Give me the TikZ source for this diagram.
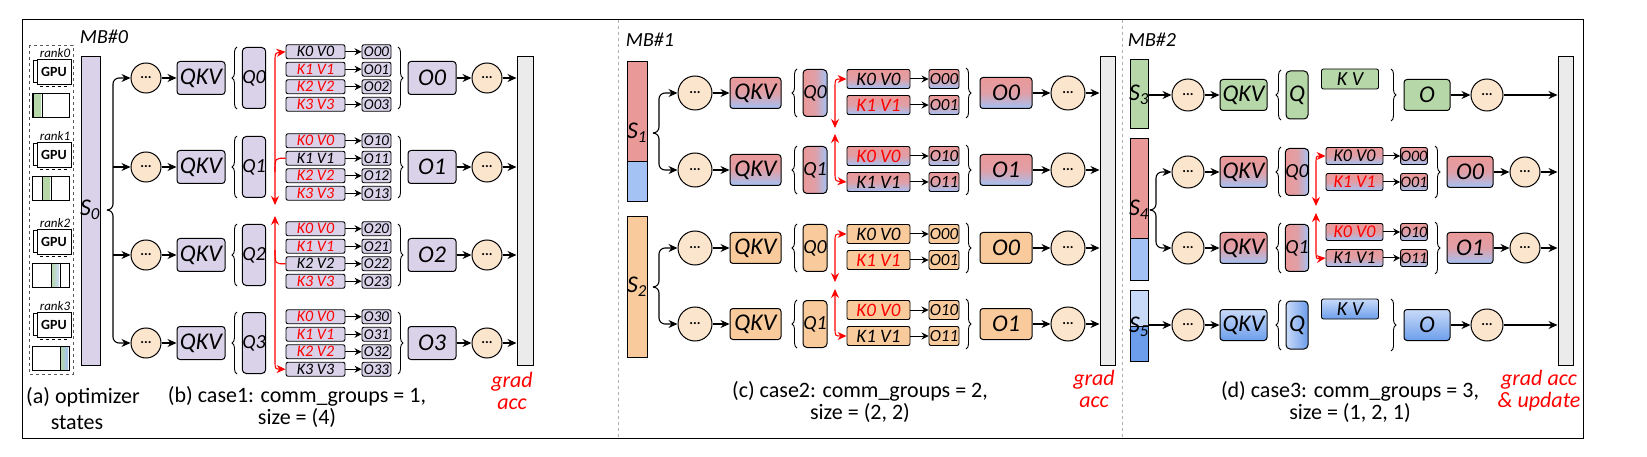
\documentclass[tikz,border=0pt]{standalone}
\usepackage{fontspec}
\setmainfont{Carlito}
\usetikzlibrary{arrows.meta,decorations.pathreplacing}
\definecolor{lav}{HTML}{D9D2E9}
\definecolor{peach}{HTML}{FCE5CD}
\definecolor{rd}{HTML}{EA9999}
\definecolor{bl}{HTML}{A4C2F4}
\definecolor{org}{HTML}{F9CB9C}
\definecolor{grn}{HTML}{B6D7A8}
\definecolor{lbl}{HTML}{C9DAF8}
\definecolor{dbl}{HTML}{6D9EEB}
\definecolor{gbar}{HTML}{EBEBEB}
\newcommand\fs[1]{\fontsize{#1}{#1}\selectfont}
\begin{document}
\begin{tikzpicture}[x=1pt,y=-1pt,
 box/.style={draw,line width=1pt,rounded corners=3pt,inner sep=0pt},
 big/.style={box,font=\fs{24}\itshape},
 qb/.style={box,font=\fs{20}\itshape,rounded corners=4pt},
 kv/.style={box,font=\fs{16}\itshape,rounded corners=2pt,line width=0.9pt},
 ob/.style={box,font=\fs{15}\itshape,rounded corners=2pt,line width=0.9pt},
 dots/.style={circle,draw,line width=1pt,fill=peach,minimum size=30pt,inner sep=0pt,font=\fs{14}\bfseries},
 bar/.style={draw,line width=1pt,inner sep=0pt},
 arr/.style={-{Stealth[length=9pt,width=8pt]},line width=1.1pt},
 sarr/.style={-{Stealth[length=7pt,width=7pt]},line width=1pt},
 rarr/.style={{Stealth[length=9pt,width=8pt]}-{Stealth[length=9pt,width=8pt]},red,line width=1.1pt},
 rline/.style={red,line width=1.1pt},
 rb/.style={top color=rd,bottom color=bl,middle color=rd!85!bl},
 br/.style={decorate,decoration={brace,amplitude=5pt},line width=0.9pt},
 lab/.style={font=\fs{19}\itshape,inner sep=0pt},
 captxt/.style={font=\fs{22},align=center,inner sep=0pt},
 redlab/.style={font=\fs{22}\itshape,text=red,align=center,inner sep=0pt}]
\useasboundingbox (0,0) rectangle (1647,457);
\draw[line width=1pt] (22,20) rectangle (1583,438);
\draw[gray!60,dashed,line width=0.8pt] (618,20) -- (618,438);
\draw[gray!60,dashed,line width=0.8pt] (1122,20) -- (1122,438);

% ---------------- (a) optimizer states
\draw[gray!70!black,dashed,line width=0.8pt] (29,45) rectangle (73,374);
\foreach \k/\yt/\sc in {0/58/grn,1/141/grn,2/228/lbl,3/311/bl}{
  \node[font=\fs{13}\itshape,inner sep=0pt] (rk\k) at (55,\yt-5) {rank\k};
  \node[draw,line width=0.9pt,minimum width=34,minimum height=25,inner sep=0pt,font=\fs{14}\bfseries] (gpu\k) at (54,\yt+14) {GPU};
  \draw[line width=0.8pt] (37,\yt+2) -- (33,\yt+2) -- (33,\yt+24) -- (37,\yt+24);
  \draw[line width=0.6pt,dashed] (40,\yt+28) -- (70,\yt+28);
  \fill[left color=grn,right color=\sc] (33.5+9*\k,\yt+35.5) rectangle (41+9*\k,\yt+58.5);
  \draw[line width=0.9pt] (33+9*\k,\yt+35) -- (33+9*\k,\yt+59) (42+9*\k,\yt+35) -- (42+9*\k,\yt+59);
  \draw[line width=0.9pt] (32.5,\yt+35) rectangle (69.5,\yt+59);
}
\node[captxt,anchor=west] (capa1) at (26,397) {(a) optimizer};
\node[captxt] (capa2) at (77,423) {states};

% ---------------- (b) case 1
\node[lab,font=\fs{20}\itshape] (mb0) at (104,37) {MB\#0};
\node[bar,fill=lav,minimum width=19,minimum height=308] (s0) at (90.5,211) {};
\node[lab,font=\fs{24}\itshape] at (90,210) {S\textsubscript{0}};
\node[bar,fill=gbar,minimum width=16,minimum height=308] (gb1) at (525,211) {};
\foreach \g/\cy in {0/78,1/167,2/255,3/343}{
  \node[dots] (a1\g) at (146,\cy) {...};
  \node[big,fill=lav,minimum width=48,minimum height=33] (q1\g) at (201,\cy) {QKV};
  \draw[arr] (a1\g) -- (q1\g);
  \draw[br] (237,\cy+31) -- (237,\cy-31);
  \node[qb,fill=lav,minimum width=22,minimum height=61] (qq1\g) at (254,\cy) {Q\g};
  \foreach \j in {0,...,3}{
    \pgfmathsetmacro\yy{\cy-26.25+17.5*\j}
    \node[kv,fill=lav,minimum width=59,minimum height=14] (k1\g\j) at (315.5,\yy) {\ifnum\j=\g\else\color{red}\fi K\j\ V\j};
    \node[ob,fill=lav,minimum width=29,minimum height=14] (o1\g\j) at (376.5,\yy) {O\g\j};
    \draw[sarr] (k1\g\j) -- (o1\g\j);
  }
  \draw[br] (398,\cy-31) -- (398,\cy+31);
  \node[big,fill=lav,minimum width=48,minimum height=33] (ob1\g) at (432,\cy) {O\g};
  \node[dots] (b1\g) at (487,\cy) {...};
  \draw[arr] (ob1\g) -- (b1\g);
  \draw[arr] (b1\g) -- (gb1.west |- b1\g);
}
\draw[arr,rounded corners=6pt] (107,210) -| (113,78) -- (a10.west);
\draw[arr,rounded corners=6pt] (107,210) -| (113,343) -- (a13.west);
\draw[arr] (113,167) -- (a11.west);
\draw[arr] (113,255) -- (a12.west);
\draw[rarr] (275,205) -- (275,62) .. controls (275,53) .. (k100.west);
\draw[rarr] (275,216) -- (275,360) .. controls (275,369) .. (k133.west);
\draw[rline] (k111.west) .. controls (275,158) .. (275,172);
\draw[rline] (k122.west) .. controls (275,264) .. (275,250);
\node[redlab] (ga1) at (512,391) {grad\\acc};
\node[captxt] (capb) at (297,407) {(b) case1: comm\_groups = 1,\\size = (4)};

% ---------------- (c) case 2
\node[lab,font=\fs{20}\itshape] (mb1) at (650,40) {MB\#1};
\node[bar,fill=rd,minimum width=20,minimum height=100] (s1a) at (637,112) {};
\node[bar,fill=bl,minimum width=20,minimum height=40] (s1b) at (637,182) {};
\node[lab,font=\fs{24}\itshape] at (637,133) {S\textsubscript{1}};
\node[bar,fill=org,minimum width=20,minimum height=140] (s2) at (637,287) {};
\node[lab,font=\fs{24}\itshape] at (637,287) {S\textsubscript{2}};
\node[bar,fill=gbar,minimum width=15,minimum height=308] (gb2) at (1107.5,211) {};
\foreach \gr/\cy/\tc/\bc/\mc/\pr in {0/93/rd/bl/rd!85!bl/0,1/170/rd/bl/rd!85!bl/1,0/248/org/org/org/2,1/324/org/org/org/3}{
  \node[dots,minimum size=34pt] (a2\pr) at (695,\cy) {...};
  \node[big,top color=\tc,bottom color=\bc,middle color=\mc,minimum width=51,minimum height=31] (q2\pr) at (755.5,\cy) {QKV};
  \draw[arr] (a2\pr) -- (q2\pr);
  \draw[br] (797,\cy+24) -- (797,\cy-24);
  \node[qb,left color=\tc,right color=\bc,middle color=\mc,minimum width=24,minimum height=47] (qq2\pr) at (815,\cy) {Q\gr};
  \foreach \j in {0,1}{
    \pgfmathsetmacro\yy{\cy-14+26*\j}
    \node[kv,font=\fs{19}\itshape,top color=\tc,bottom color=\bc,middle color=\mc,minimum width=63,minimum height=19] (k2\pr\j) at (878.5,\yy) {\ifnum\j=\gr\else\color{red}\fi K\j\ V\j};
    \node[ob,font=\fs{17}\itshape,top color=\tc,bottom color=\bc,middle color=\mc,minimum width=30,minimum height=19] (o2\pr\j) at (944,\yy) {O\gr\j};
    \draw[sarr] (k2\pr\j) -- (o2\pr\j);
  }
  \draw[br] (966,\cy-25) -- (966,\cy+25);
  \node[big,top color=\tc,bottom color=\bc,middle color=\mc,minimum width=52,minimum height=31] (ob2\pr) at (1006,\cy) {O\gr};
  \node[dots,minimum size=34pt] (b2\pr) at (1068,\cy) {...};
  \draw[arr] (ob2\pr) -- (b2\pr);
  \draw[arr] (b2\pr) -- (gb2.west |- b2\pr);
}
\draw[arr,rounded corners=6pt] (653,133) -| (659,93) -- (a20.west);
\draw[arr,rounded corners=6pt] (653,133) -| (659,170) -- (a21.west);
\draw[arr,rounded corners=6pt] (653,287) -| (659,248) -- (a22.west);
\draw[arr,rounded corners=6pt] (653,287) -| (659,324) -- (a23.west);
\draw[rarr] (835,128) -- (835,88) .. controls (835,79) .. (k200.west);
\draw[rarr] (835,134) -- (835,172) .. controls (835,181) .. (k211.west);
\draw[rarr] (835,282) -- (835,242) .. controls (835,234) .. (k220.west);
\draw[rarr] (835,289) -- (835,327) .. controls (835,336) .. (k231.west);
\node[redlab] (ga2) at (1094,389) {grad\\acc};
\node[captxt] (capc) at (860,402) {(c) case2: comm\_groups = 2,\\size = (2, 2)};

% ---------------- (d) case 3
\node[lab,font=\fs{20}\itshape] (mb2) at (1152,40) {MB\#2};
\node[bar,fill=grn,minimum width=18,minimum height=69] (s3) at (1139,94.5) {};
\node[lab,font=\fs{24}\itshape] at (1139,95) {S\textsubscript{3}};
\node[bar,fill=rd,minimum width=18,minimum height=100] (s4a) at (1139,189) {};
\node[bar,fill=bl,minimum width=18,minimum height=41] (s4b) at (1139,259.5) {};
\node[lab,font=\fs{24}\itshape] at (1139,210) {S\textsubscript{4}};
\node[bar,fill=lbl,minimum width=18,minimum height=36] (s5a) at (1139,308) {};
\node[bar,fill=dbl,minimum width=18,minimum height=35] (s5b) at (1139,343.5) {};
\node[lab,font=\fs{24}\itshape] at (1139,327) {S\textsubscript{5}};
\node[bar,fill=gbar,minimum width=15,minimum height=308] (gb3) at (1565.5,211) {};
% single rows
\foreach \cy/\tc/\bc/\pr/\sn in {95/grn/grn/0/s3,325/lbl/dbl/3/s5a}{
  \node[dots,minimum size=32pt] (a3\pr) at (1188,\cy) {...};
  \draw[arr] (\sn.east |- a3\pr) -- (a3\pr);
  \node[big,top color=\tc,bottom color=\bc,minimum width=47,minimum height=31] (q3\pr) at (1243.5,\cy) {QKV};
  \draw[arr] (a3\pr) -- (q3\pr);
  \draw[br] (1281,\cy+25) -- (1281,\cy-25);
  \node[qb,font=\fs{24}\itshape,left color=\tc,right color=\bc,minimum width=22,minimum height=48] (qq3\pr) at (1297,\cy) {Q};
  \node[kv,font=\fs{20}\itshape,top color=\tc,bottom color=\bc,minimum width=57,minimum height=20] (k3\pr) at (1350,\cy-16) {K V};
  \draw[br] (1391,\cy-26) -- (1391,\cy+26);
  \node[big,top color=\tc,bottom color=\bc,minimum width=46,minimum height=31] (ob3\pr) at (1427,\cy) {O};
  \node[dots,minimum size=32pt] (b3\pr) at (1487,\cy) {...};
  \draw[arr] (ob3\pr) -- (b3\pr);
  \draw[arr] (b3\pr) -- (gb3.west |- b3\pr);
}
% middle rows
\foreach \gr/\cy/\pr in {0/172/1,1/248/2}{
  \node[dots,minimum size=32pt] (a3\pr) at (1188,\cy) {...};
  \node[big,rb,minimum width=47,minimum height=31] (q3\pr) at (1243.5,\cy) {QKV};
  \draw[arr] (a3\pr) -- (q3\pr);
  \draw[br] (1281,\cy+25) -- (1281,\cy-25);
  \node[qb,left color=rd,right color=bl,middle color=rd!85!bl,minimum width=22,minimum height=47] (qq3\pr) at (1297,\cy) {Q\gr};
  \foreach \j in {0,1}{
    \pgfmathsetmacro\yy{\cy-16+26*\j}
    \node[kv,font=\fs{18}\itshape,rb,minimum width=57,minimum height=17] (k3\pr\j) at (1354.5,\yy) {\ifnum\j=\gr\else\color{red}\fi K\j\ V\j};
    \node[ob,font=\fs{16}\itshape,rb,minimum width=26,minimum height=17] (o3\pr\j) at (1414,\yy) {O\gr\j};
    \draw[sarr] (k3\pr\j) -- (o3\pr\j);
  }
  \draw[br] (1435,\cy-26) -- (1435,\cy+26);
  \node[big,rb,minimum width=46,minimum height=31] (ob3\pr) at (1470,\cy) {O\gr};
  \node[dots] (b3\pr) at (1525,\cy) {...};
  \draw[arr] (ob3\pr) -- (b3\pr);
  \draw[arr] (b3\pr) -- (gb3.west |- b3\pr);
}
\draw[arr,rounded corners=6pt] (1151,210) -| (1156,172) -- (a31.west);
\draw[arr,rounded corners=6pt] (1151,210) -| (1156,248) -- (a32.west);
\draw[rarr] (1316,206) -- (1316,165) .. controls (1316,156) .. (k310.west);
\draw[rarr] (1316,213) -- (1316,250) .. controls (1316,259) .. (k321.west);
\node[redlab] (ga3) at (1539,391) {grad acc\\\& update};
\node[captxt] (capd) at (1350,402) {(d) case3: comm\_groups = 3,\\size = (1, 2, 1)};
\end{tikzpicture}
\end{document}
